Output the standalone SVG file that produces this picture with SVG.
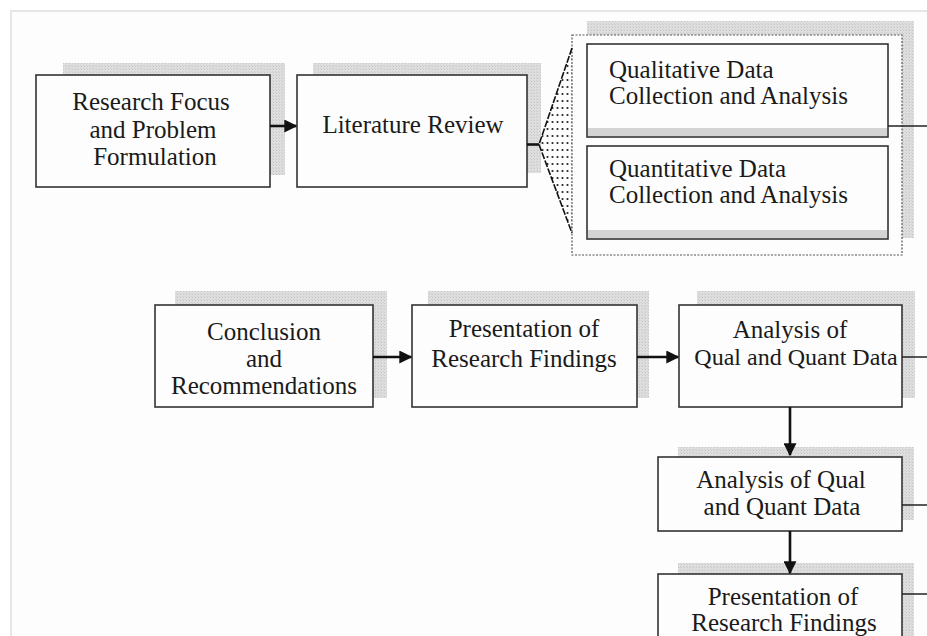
<svg xmlns="http://www.w3.org/2000/svg" width="927" height="636" viewBox="0 0 927 636">
<style>
.box{fill:#fdfdfd;stroke:#333;stroke-width:1.6}
.sh{fill:url(#hatch)}
.t{font-family:"Liberation Serif","Times New Roman",serif;font-size:25px;fill:#1a1a1a;text-anchor:middle}
.tl{font-family:"Liberation Serif","Times New Roman",serif;font-size:25px;fill:#1a1a1a}
.arr{stroke:#111;stroke-width:2.6;fill:none;marker-end:url(#ah)}
.ln{stroke:#222;stroke-width:1.5;fill:none}
.band{fill:#d4d4d4}
</style>
<defs>
<pattern id="hatch" width="3" height="3" patternUnits="userSpaceOnUse">
<rect width="3" height="3" fill="#dedede"/>
<rect width="1" height="1" fill="#c6c6c6"/>
<rect x="2" y="2" width="1" height="1" fill="#cfcfcf"/>
</pattern>
<pattern id="dots" width="5" height="7" patternUnits="userSpaceOnUse">
<circle cx="2.5" cy="3" r="1.1" fill="#222"/>
</pattern>
<marker id="ah" viewBox="0 0 10 10" refX="9" refY="5" markerWidth="5" markerHeight="5" markerUnits="strokeWidth" orient="auto">
<path d="M0,0 L10,5 L0,10 z" fill="#111"/>
</marker>
</defs>
<rect width="927" height="636" fill="#ffffff"/>
<rect x="11" y="11" width="930" height="640" fill="#fdfdfd" stroke="#e6e6e6" stroke-width="2"/>

<g id="node-research-focus">
<rect class="sh" x="63" y="63" width="222" height="112"/>
<rect class="box" x="36" y="75" width="234" height="112"/>
<text class="t" x="151" y="110">Research Focus</text>
<text class="t" x="153" y="138">and Problem</text>
<text class="t" x="155" y="165">Formulation</text>
</g>

<g id="node-literature-review">
<rect class="sh" x="313" y="63" width="228" height="110"/>
<rect class="box" x="297" y="75" width="230" height="112"/>
<text class="t" x="413" y="133">Literature Review</text>
</g>

<g id="node-data-collection">
<rect class="sh" x="587" y="21" width="327" height="217"/>
<rect x="572" y="35" width="330" height="220" fill="#fdfdfd" stroke="#555" stroke-width="1.2" stroke-dasharray="2,1.5"/>
<g id="node-qualitative">
<rect class="box" x="587" y="44" width="301" height="93"/>
<rect class="band" x="588" y="128" width="299" height="8"/>
<text class="tl" x="609" y="78">Qualitative Data</text>
<text class="tl" x="609" y="104">Collection and Analysis</text>
</g>
<g id="node-quantitative">
<rect class="box" x="587" y="146" width="301" height="93"/>
<rect class="band" x="588" y="230" width="299" height="8"/>
<text class="tl" x="609" y="177">Quantitative Data</text>
<text class="tl" x="609" y="203">Collection and  Analysis</text>
</g>
</g>

<g id="node-conclusion">
<rect class="sh" x="175" y="291" width="212" height="107"/>
<rect class="box" x="155" y="305" width="218" height="102"/>
<text class="t" x="264" y="340">Conclusion</text>
<text class="t" x="264" y="367">and</text>
<text class="t" x="264" y="394">Recommendations</text>
</g>

<g id="node-presentation-1">
<rect class="sh" x="428" y="291" width="221" height="107"/>
<rect class="box" x="412" y="305" width="225" height="102"/>
<text class="t" x="524" y="337">Presentation of</text>
<text class="t" x="524" y="367">Research Findings</text>
</g>

<g id="node-analysis-1">
<rect class="sh" x="697" y="291" width="218" height="107"/>
<rect class="box" x="679" y="305" width="223" height="102"/>
<text class="t" x="790" y="338">Analysis of</text>
<text class="t" x="796" y="365" style="font-size:24px">Qual and Quant Data</text>
</g>

<g id="node-analysis-2">
<rect class="sh" x="678" y="447" width="236" height="73"/>
<rect class="box" x="658" y="457" width="244" height="74"/>
<text class="t" x="781" y="488">Analysis of Qual</text>
<text class="t" x="782" y="515">and Quant Data</text>
</g>

<g id="node-presentation-2">
<rect class="sh" x="678" y="563" width="236" height="80"/>
<rect class="box" x="658" y="574" width="244" height="70"/>
<text class="t" x="783" y="605">Presentation of</text>
<text class="t" x="784" y="631">Research Findings</text>
</g>

<g id="connectors">
<line class="arr" x1="270" y1="126" x2="296" y2="126"/>
<line x1="527" y1="144.5" x2="539" y2="144.5" stroke="#111" stroke-width="2.6"/>
<path d="M539,144.5 L572,48 L572,233 Z" fill="url(#dots)"/>
<path d="M572,48 L539,144.5 L572,233" fill="none" stroke="#111" stroke-width="1.6" stroke-dasharray="7,1.5"/>
<line class="ln" x1="888" y1="126" x2="927" y2="126"/>
<line class="arr" x1="373" y1="357" x2="411" y2="357"/>
<line class="arr" x1="637" y1="357" x2="678" y2="357"/>
<line class="ln" x1="902" y1="357" x2="927" y2="357" stroke-width="2"/>
<line class="arr" x1="790" y1="407" x2="790" y2="455"/>
<line class="ln" x1="902" y1="505" x2="927" y2="505" stroke-width="2"/>
<line class="arr" x1="790" y1="531" x2="790" y2="573"/>
<line class="ln" x1="902" y1="594" x2="927" y2="594" stroke-width="2"/>
</g>
</svg>
